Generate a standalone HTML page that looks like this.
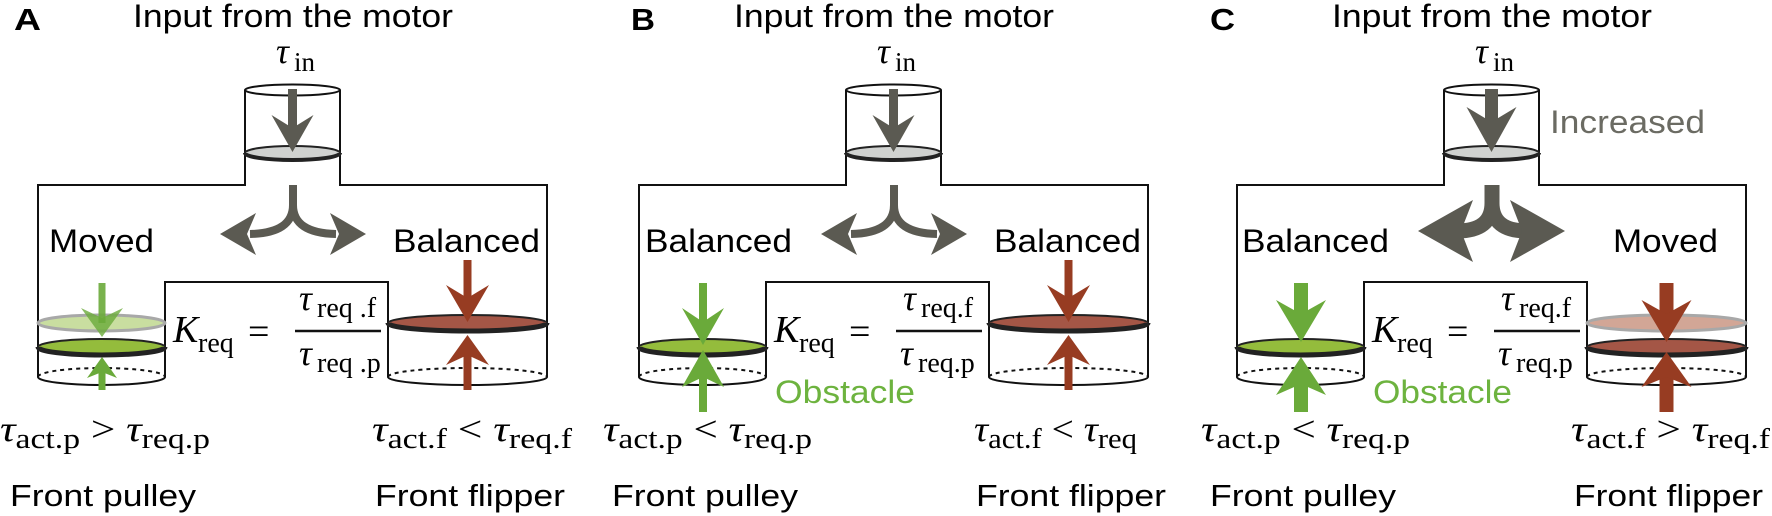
<!DOCTYPE html>
<html><head><meta charset="utf-8"><style>
html,body{margin:0;padding:0;background:#fff;}
svg{display:block}
.s{font-family:"Liberation Sans",sans-serif;}
.m{font-family:"Liberation Serif",serif;}
</style></head><body>
<svg width="1772" height="516" viewBox="0 0 1772 516" xmlns="http://www.w3.org/2000/svg">
<defs>
<g id="frame">
  <ellipse cx="292.5" cy="90" rx="47.5" ry="5.5" fill="none" stroke="#111" stroke-width="2"/>
  <path d="M245 90 V185 H38 V377 A63.5 8 0 0 0 165 377 V282 H388 V377 A79.5 8 0 0 0 547 377 V185 H340 V90" fill="none" stroke="#111" stroke-width="2"/>
  <path d="M38 377 A63.5 9 0 0 1 165 377" fill="none" stroke="#111" stroke-width="2" stroke-dasharray="4,4"/>
  <path d="M388 377 A79.5 9 0 0 1 547 377" fill="none" stroke="#111" stroke-width="2" stroke-dasharray="4,4"/>
  <ellipse cx="292.5" cy="153" rx="47.5" ry="7" fill="#d0d2d0" stroke="#222" stroke-width="2"/>
  <path d="M245 153 A47.5 7 0 0 0 340 153" fill="none" stroke="#222" stroke-width="4"/>
</g>
</defs>

<!-- ===== PANEL A ===== -->
<g>
<text x="14" y="30" class="s" font-size="31" font-weight="bold" textLength="27" lengthAdjust="spacingAndGlyphs">A</text>
<text x="133" y="27" class="s" font-size="32" textLength="320" lengthAdjust="spacingAndGlyphs">Input from the motor</text>
<text x="276" y="63" class="m" font-size="36" font-style="italic">τ</text><text x="294" y="71" class="m" font-size="27">in</text>
<use href="#frame"/>
<!-- top arrow -->
<rect x="288" y="89" width="9" height="45" fill="#5b5a52"/>
<polygon points="292.5,152 271.5,115 292.5,128 313.5,115" fill="#5b5a52"/>
<!-- split -->
<path d="M293 185 V205 Q293 233 250 234" fill="none" stroke="#5b5a52" stroke-width="8"/>
<path d="M293 205 Q293 233 336 234" fill="none" stroke="#5b5a52" stroke-width="8"/>
<polygon points="220,234 256,213 247,234 256,255" fill="#5b5a52"/>
<polygon points="366,234 330,213 339,234 330,255" fill="#5b5a52"/>
<text x="49" y="252" class="s" font-size="32" textLength="105" lengthAdjust="spacingAndGlyphs">Moved</text>
<text x="393" y="252" class="s" font-size="32" textLength="147" lengthAdjust="spacingAndGlyphs">Balanced</text>
<!-- ghost green -->
<ellipse cx="101.5" cy="323" rx="63.5" ry="8" fill="#c9dea0" stroke="#a8a8a8" stroke-width="3"/>
<ellipse cx="101.5" cy="347" rx="63.5" ry="8" fill="#94bc3c" stroke="#222" stroke-width="2"/>
<path d="M38 347 A63.5 8 0 0 0 165 347" fill="none" stroke="#222" stroke-width="5"/>
<ellipse cx="467.5" cy="323" rx="79.5" ry="8" fill="#a45646" stroke="#222" stroke-width="2"/>
<path d="M388 323 A79.5 8 0 0 0 547 323" fill="none" stroke="#222" stroke-width="5"/>
<!-- green arrows -->
<rect x="98.5" y="283" width="7" height="40" fill="#6aaa3a" fill-opacity="0.9"/>
<polygon points="102,337 81,308 102,318 123,308" fill="#6aaa3a" fill-opacity="0.8"/>
<rect x="98.5" y="368" width="7" height="22" fill="#6aaa3a"/>
<polygon points="102,357 87,378 102,372 117,378" fill="#6aaa3a"/>
<!-- red arrows -->
<rect x="463.5" y="260" width="8" height="38" fill="#973c22"/>
<polygon points="467.5,322 446,285 467.5,298 489,285" fill="#973c22"/>
<rect x="463.5" y="350" width="8" height="40" fill="#973c22"/>
<polygon points="467.5,335 446,365 467.5,355 489,365" fill="#973c22"/>
<!-- equation -->
<text x="173" y="342" class="m" font-size="38" font-style="italic">K</text><text x="198" y="352" class="m" font-size="28">req</text>
<text x="248" y="344" class="m" font-size="38">=</text>
<line x1="295" y1="331" x2="381" y2="331" stroke="#111" stroke-width="2.5"/>
<text x="299" y="310" class="m" font-size="36" font-style="italic">τ</text><text x="317" y="317" class="m" font-size="28">req .f</text>
<text x="299" y="365" class="m" font-size="36" font-style="italic">τ</text><text x="317" y="372" class="m" font-size="28">req .p</text>
<text x="0" y="441" class="m" font-size="36" textLength="210" lengthAdjust="spacingAndGlyphs"><tspan font-style="italic">τ</tspan><tspan font-size="28" dy="7">act.p</tspan><tspan dy="-7"> &gt; </tspan><tspan font-style="italic">τ</tspan><tspan font-size="28" dy="7">req.p</tspan></text>
<text x="372" y="441" class="m" font-size="36" textLength="200" lengthAdjust="spacingAndGlyphs"><tspan font-style="italic">τ</tspan><tspan font-size="28" dy="7">act.f</tspan><tspan dy="-7"> &lt; </tspan><tspan font-style="italic">τ</tspan><tspan font-size="28" dy="7">req.f</tspan></text>
<text x="10" y="506" class="s" font-size="31" textLength="186" lengthAdjust="spacingAndGlyphs">Front pulley</text>
<text x="375" y="506" class="s" font-size="31" textLength="190" lengthAdjust="spacingAndGlyphs">Front flipper</text>
</g>

<!-- ===== PANEL B ===== -->
<text x="631" y="30" class="s" font-size="31" font-weight="bold" textLength="24" lengthAdjust="spacingAndGlyphs">B</text>
<g transform="translate(601,0)">
<text x="133" y="27" class="s" font-size="32" textLength="320" lengthAdjust="spacingAndGlyphs">Input from the motor</text>
<text x="276" y="63" class="m" font-size="36" font-style="italic">τ</text><text x="294" y="71" class="m" font-size="27">in</text>
<use href="#frame"/>
<rect x="288" y="89" width="9" height="45" fill="#5b5a52"/>
<polygon points="292.5,152 271.5,115 292.5,128 313.5,115" fill="#5b5a52"/>
<path d="M293 185 V205 Q293 233 250 234" fill="none" stroke="#5b5a52" stroke-width="8"/>
<path d="M293 205 Q293 233 336 234" fill="none" stroke="#5b5a52" stroke-width="8"/>
<polygon points="220,234 256,213 247,234 256,255" fill="#5b5a52"/>
<polygon points="366,234 330,213 339,234 330,255" fill="#5b5a52"/>
<text x="44" y="252" class="s" font-size="32" textLength="147" lengthAdjust="spacingAndGlyphs">Balanced</text>
<text x="393" y="252" class="s" font-size="32" textLength="147" lengthAdjust="spacingAndGlyphs">Balanced</text>
<ellipse cx="101.5" cy="347" rx="63.5" ry="8" fill="#94bc3c" stroke="#222" stroke-width="2"/>
<path d="M38 347 A63.5 8 0 0 0 165 347" fill="none" stroke="#222" stroke-width="5"/>
<ellipse cx="467.5" cy="323" rx="79.5" ry="8" fill="#a45646" stroke="#222" stroke-width="2"/>
<path d="M388 323 A79.5 8 0 0 0 547 323" fill="none" stroke="#222" stroke-width="5"/>
<rect x="98" y="283" width="8" height="40" fill="#6aaa3a"/>
<polygon points="102,345 81,308 102,322 123,308" fill="#6aaa3a"/>
<rect x="98" y="373" width="8" height="39" fill="#6aaa3a"/>
<polygon points="102,350 81,387 102,377 123,387" fill="#6aaa3a"/>
<rect x="463.5" y="260" width="8" height="38" fill="#973c22"/>
<polygon points="467.5,322 446,285 467.5,298 489,285" fill="#973c22"/>
<rect x="463.5" y="350" width="8" height="40" fill="#973c22"/>
<polygon points="467.5,335 446,365 467.5,355 489,365" fill="#973c22"/>
<text x="173" y="342" class="m" font-size="38" font-style="italic">K</text><text x="198" y="352" class="m" font-size="28">req</text>
<text x="248" y="344" class="m" font-size="38">=</text>
<line x1="295" y1="331" x2="381" y2="331" stroke="#111" stroke-width="2.5"/>
<text x="302" y="310" class="m" font-size="36" font-style="italic">τ</text><text x="320" y="317" class="m" font-size="28">req.f</text>
<text x="299" y="365" class="m" font-size="36" font-style="italic">τ</text><text x="317" y="372" class="m" font-size="28">req.p</text>
<text x="174" y="403" class="s" font-size="32" fill="#6db33f" textLength="140" lengthAdjust="spacingAndGlyphs">Obstacle</text>
<text x="2" y="441" class="m" font-size="36" textLength="209" lengthAdjust="spacingAndGlyphs"><tspan font-style="italic">τ</tspan><tspan font-size="28" dy="7">act.p</tspan><tspan dy="-7"> &lt; </tspan><tspan font-style="italic">τ</tspan><tspan font-size="28" dy="7">req.p</tspan></text>
<text x="373" y="441" class="m" font-size="36" textLength="163" lengthAdjust="spacingAndGlyphs"><tspan font-style="italic">τ</tspan><tspan font-size="28" dy="7">act.f</tspan><tspan dy="-7"> &lt; </tspan><tspan font-style="italic">τ</tspan><tspan font-size="28" dy="7">req</tspan></text>
<text x="11" y="506" class="s" font-size="31" textLength="186" lengthAdjust="spacingAndGlyphs">Front pulley</text>
<text x="375" y="506" class="s" font-size="31" textLength="190" lengthAdjust="spacingAndGlyphs">Front flipper</text>
</g>

<!-- ===== PANEL C ===== -->
<text x="1210" y="30" class="s" font-size="31" font-weight="bold" textLength="25" lengthAdjust="spacingAndGlyphs">C</text>
<g transform="translate(1199,0)">
<text x="133" y="27" class="s" font-size="32" textLength="320" lengthAdjust="spacingAndGlyphs">Input from the motor</text>
<text x="276" y="63" class="m" font-size="36" font-style="italic">τ</text><text x="294" y="71" class="m" font-size="27">in</text>
<use href="#frame"/>
<rect x="286" y="89" width="13" height="35" fill="#5b5a52"/>
<polygon points="292.5,152 267.5,107 292.5,122 317.5,107" fill="#5b5a52"/>
<text x="351" y="133" class="s" font-size="32" fill="#6b6b63" textLength="155" lengthAdjust="spacingAndGlyphs">Increased</text>
<path d="M293 185 V203 Q293 231 258 231" fill="none" stroke="#5b5a52" stroke-width="15"/>
<path d="M293 203 Q293 231 328 231" fill="none" stroke="#5b5a52" stroke-width="15"/>
<polygon points="219,231 274,200 262,231 274,262" fill="#5b5a52"/>
<polygon points="366,231 311,200 323,231 311,262" fill="#5b5a52"/>
<text x="43" y="252" class="s" font-size="32" textLength="147" lengthAdjust="spacingAndGlyphs">Balanced</text>
<text x="414" y="252" class="s" font-size="32" textLength="105" lengthAdjust="spacingAndGlyphs">Moved</text>
<ellipse cx="101.5" cy="347" rx="63.5" ry="8" fill="#94bc3c" stroke="#222" stroke-width="2"/>
<path d="M38 347 A63.5 8 0 0 0 165 347" fill="none" stroke="#222" stroke-width="5"/>
<ellipse cx="467.5" cy="323" rx="79.5" ry="8" fill="#d2a696" stroke="#a8a8a8" stroke-width="3"/>
<ellipse cx="467.5" cy="347" rx="79.5" ry="8" fill="#a45646" stroke="#222" stroke-width="2"/>
<path d="M388 347 A79.5 8 0 0 0 547 347" fill="none" stroke="#222" stroke-width="5"/>
<rect x="95" y="283" width="14" height="35" fill="#6aaa3a"/>
<polygon points="102,342 77,300 102,314 127,300" fill="#6aaa3a"/>
<rect x="95" y="380" width="14" height="32" fill="#6aaa3a"/>
<polygon points="102,357 77,395 102,384 127,395" fill="#6aaa3a"/>
<rect x="460.5" y="283" width="14" height="35" fill="#973c22"/>
<polygon points="467.5,342 442.5,300 467.5,314 492.5,300" fill="#973c22"/>
<rect x="460.5" y="372" width="14" height="40" fill="#973c22"/>
<polygon points="467.5,352 442.5,387 467.5,377 492.5,387" fill="#973c22"/>
<text x="173" y="342" class="m" font-size="38" font-style="italic">K</text><text x="198" y="352" class="m" font-size="28">req</text>
<text x="248" y="344" class="m" font-size="38">=</text>
<line x1="295" y1="331" x2="381" y2="331" stroke="#111" stroke-width="2.5"/>
<text x="302" y="310" class="m" font-size="36" font-style="italic">τ</text><text x="320" y="317" class="m" font-size="28">req.f</text>
<text x="299" y="365" class="m" font-size="36" font-style="italic">τ</text><text x="317" y="372" class="m" font-size="28">req.p</text>
<text x="174" y="403" class="s" font-size="32" fill="#6db33f" textLength="139" lengthAdjust="spacingAndGlyphs">Obstacle</text>
<text x="2" y="441" class="m" font-size="36" textLength="209" lengthAdjust="spacingAndGlyphs"><tspan font-style="italic">τ</tspan><tspan font-size="28" dy="7">act.p</tspan><tspan dy="-7"> &lt; </tspan><tspan font-style="italic">τ</tspan><tspan font-size="28" dy="7">req.p</tspan></text>
<text x="372" y="441" class="m" font-size="36" textLength="199" lengthAdjust="spacingAndGlyphs"><tspan font-style="italic">τ</tspan><tspan font-size="28" dy="7">act.f</tspan><tspan dy="-7"> &gt; </tspan><tspan font-style="italic">τ</tspan><tspan font-size="28" dy="7">req.f</tspan></text>
<text x="11" y="506" class="s" font-size="31" textLength="186" lengthAdjust="spacingAndGlyphs">Front pulley</text>
<text x="375" y="506" class="s" font-size="31" textLength="189" lengthAdjust="spacingAndGlyphs">Front flipper</text>
</g>
</svg>
</body></html>
